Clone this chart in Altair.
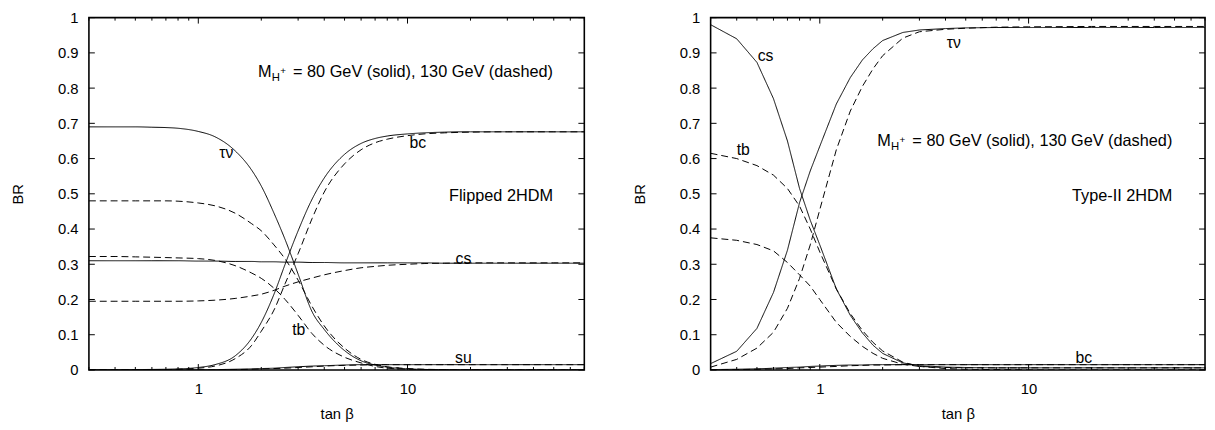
import altair as alt
import pandas as pd

FONT = "Liberation Sans"

# ---------------- Left panel: Flipped 2HDM ----------------
FL_T = [0.3, 0.4, 0.5, 0.6, 0.7, 0.8, 1.0, 1.2, 1.5, 1.8, 2.0, 2.3, 2.6, 3.0, 3.5, 4.0,
        5.0, 6.0, 7.0, 8.0, 10, 12, 15, 20, 30, 50, 70]
FL_TAUNU_80 = [0.690, 0.690, 0.690, 0.689, 0.688, 0.686, 0.677, 0.662, 0.622, 0.567, 0.522,
               0.445, 0.370, 0.272, 0.165, 0.115, 0.055, 0.026, 0.014, 0.008, 0.003, 0.0015,
               0.0008, 0.0004, 0.0002, 0.0001, 0.0]
FL_CS_80 = [0.310, 0.310, 0.310, 0.310, 0.310, 0.310, 0.309, 0.309, 0.308, 0.308, 0.307,
            0.307, 0.306, 0.306, 0.305, 0.305, 0.304, 0.304, 0.304, 0.304, 0.304, 0.304,
            0.303, 0.303, 0.303, 0.303, 0.303]
FL_BC_80 = [0.000, 0.0005, 0.001, 0.0015, 0.002, 0.003, 0.007, 0.015, 0.040, 0.090, 0.135,
            0.215, 0.300, 0.395, 0.485, 0.545, 0.612, 0.643, 0.657, 0.664, 0.670, 0.673,
            0.675, 0.676, 0.676, 0.676, 0.676]
FL_SU_80 = [0.0, 0.0, 0.0, 0.0001, 0.0002, 0.0003, 0.0005, 0.001, 0.002, 0.003, 0.004,
            0.005, 0.007, 0.009, 0.011, 0.012, 0.014, 0.015, 0.015, 0.015, 0.015, 0.015,
            0.015, 0.015, 0.015, 0.015, 0.015]
FL_TAUNU_130 = [0.480, 0.480, 0.480, 0.480, 0.480, 0.479, 0.474, 0.466, 0.445, 0.415, 0.395,
                0.355, 0.315, 0.255, 0.180, 0.125, 0.062, 0.030, 0.016, 0.009, 0.004, 0.002,
                0.001, 0.0005, 0.0, 0.0, 0.0]
FL_TB_130 = [0.322, 0.322, 0.321, 0.320, 0.319, 0.318, 0.316, 0.311, 0.296, 0.275, 0.260,
             0.232, 0.200, 0.155, 0.103, 0.070, 0.036, 0.020, 0.010, 0.005, 0.002, 0.001,
             0.0, 0.0, 0.0, 0.0, 0.0]
FL_CS_130 = [0.195, 0.195, 0.195, 0.195, 0.195, 0.195, 0.196, 0.198, 0.203, 0.210, 0.215,
             0.226, 0.238, 0.250, 0.261, 0.270, 0.282, 0.290, 0.294, 0.297, 0.300, 0.302,
             0.303, 0.304, 0.304, 0.304, 0.304]
FL_BC_130 = [0.0, 0.0, 0.0005, 0.0008, 0.001, 0.002, 0.005, 0.011, 0.032, 0.070, 0.110,
             0.170, 0.245, 0.330, 0.430, 0.505, 0.585, 0.625, 0.645, 0.655, 0.665, 0.670,
             0.673, 0.675, 0.676, 0.676, 0.676]
FL_SU_130 = [0.0, 0.0, 0.0, 0.0, 0.0001, 0.0002, 0.0003, 0.0006, 0.001, 0.002, 0.003,
             0.004, 0.005, 0.007, 0.009, 0.011, 0.013, 0.014, 0.015, 0.015, 0.015, 0.015,
             0.015, 0.015, 0.015, 0.015, 0.015]

FL_LABEL_TEXT = ["τν", "bc", "cs", "tb", "su"]
FL_LABEL_T = [1.36, 11.2, 18.5, 3.02, 18.5]
FL_LABEL_BR = [0.615, 0.643, 0.316, 0.113, 0.035]
FL_MODEL = "Flipped 2HDM"

# ---------------- Right panel: Type-II 2HDM ----------------
T2_T = [0.3, 0.4, 0.5, 0.6, 0.7, 0.8, 0.9, 1.0, 1.2, 1.4, 1.6, 1.8, 2.0, 2.5, 3.0, 4.0,
        5.0, 7.0, 10, 20, 40, 70]
T2_CS_80 = [0.980, 0.940, 0.873, 0.770, 0.650, 0.515, 0.425, 0.355, 0.230, 0.155, 0.105,
            0.070, 0.047, 0.020, 0.012, 0.008, 0.007, 0.006, 0.006, 0.006, 0.006, 0.006]
T2_TAUNU_80 = [0.018, 0.053, 0.118, 0.220, 0.340, 0.475, 0.565, 0.635, 0.755, 0.830, 0.880,
               0.912, 0.935, 0.958, 0.965, 0.969, 0.971, 0.972, 0.972, 0.972, 0.972, 0.972]
T2_BC_80 = [0.001, 0.002, 0.003, 0.005, 0.007, 0.008, 0.010, 0.011, 0.013, 0.014, 0.014,
            0.015, 0.015, 0.015, 0.015, 0.015, 0.015, 0.015, 0.015, 0.015, 0.015, 0.015]
T2_TB_130 = [0.615, 0.600, 0.580, 0.553, 0.515, 0.465, 0.400, 0.335, 0.230, 0.160, 0.112,
             0.078, 0.054, 0.022, 0.010, 0.004, 0.002, 0.001, 0.0, 0.0, 0.0, 0.0]
T2_CS_130 = [0.375, 0.368, 0.356, 0.338, 0.305, 0.270, 0.238, 0.200, 0.135, 0.095, 0.067,
             0.047, 0.033, 0.016, 0.010, 0.007, 0.006, 0.006, 0.006, 0.006, 0.006, 0.006]
T2_TAUNU_130 = [0.008, 0.030, 0.062, 0.107, 0.175, 0.260, 0.355, 0.455, 0.625, 0.735, 0.805,
                0.855, 0.892, 0.942, 0.960, 0.967, 0.970, 0.973, 0.974, 0.975, 0.975, 0.975]
T2_BC_130 = [0.0005, 0.001, 0.002, 0.003, 0.004, 0.006, 0.007, 0.008, 0.010, 0.012, 0.013,
             0.014, 0.014, 0.015, 0.015, 0.015, 0.015, 0.015, 0.015, 0.015, 0.015, 0.015]

T2_LABEL_TEXT = ["cs", "tb", "τν", "bc"]
T2_LABEL_T = [0.55, 0.43, 4.38, 18.4]
T2_LABEL_BR = [0.891, 0.624, 0.928, 0.035]
T2_MODEL = "Type-II 2HDM"

# annotation text
ANNOT_MAIN = "= 80 GeV (solid), 130 GeV (dashed)"
FL_ANNOT_T, FL_ANNOT_BR, FL_MODEL_BR = 49.6, 0.832, 0.48
T2_ANNOT_T, T2_ANNOT_BR, T2_MODEL_BR = 48.8, 0.635, 0.48

# axis ticks
Y_TICKS = [0, 0.1, 0.2, 0.3, 0.4, 0.5, 0.6, 0.7, 0.8, 0.9, 1.0]
X_MAJOR = [1, 10]
X_MINOR = [0.3, 0.4, 0.5, 0.6, 0.7, 0.8, 0.9, 2, 3, 4, 5, 6, 7, 8, 9, 20, 30, 40, 50, 60, 70]
X_DOMAIN = [0.3, 70]


def long_df(t, series):
    rows = []
    for name, (vals, mass) in series.items():
        for x, y in zip(t, vals):
            rows.append({"t": x, "BR": y, "curve": name, "mass": mass})
    return pd.DataFrame(rows)


AX_COMMON = dict(ticks=False, tickSize=0, domain=False, grid=False, labelOverlap=False,
                 labelFont=FONT, labelFontSize=15, labelColor="black",
                 titleFont=FONT, titleFontSize=15, titleFontWeight="normal", titleColor="black")
X_AXIS = alt.Axis(values=X_MAJOR, format="~g", title="tan β", labelPadding=12, titlePadding=10,
                  **AX_COMMON)
Y_AXIS = alt.Axis(values=Y_TICKS, format=".1~f", title="BR", labelPadding=11, titlePadding=32,
                  **AX_COMMON)


def panel(df, interp, lab_text, lab_t, lab_br, a_t, a_br, model, model_br, W, H):
    xs = alt.Scale(type="log", domain=X_DOMAIN, nice=False)
    ys = alt.Scale(domain=[0, 1], nice=False, zero=False)
    Xs = alt.X("t:Q", scale=xs, axis=X_AXIS)
    Ys = alt.Y("BR:Q", scale=ys, axis=Y_AXIS)

    lines = alt.Chart(df).mark_line(color="black", strokeWidth=1, interpolate=interp, clip=True).encode(
        x=Xs, y=Ys,
        detail="curve:N",
        strokeDash=alt.StrokeDash("mass:N", scale=alt.Scale(domain=["80", "130"],
                                                            range=[[1, 0], [7, 4]]), legend=None),
    )

    ydf = pd.DataFrame({"BR": Y_TICKS})
    xmaj = pd.DataFrame({"t": X_MAJOR})
    xmin = pd.DataFrame({"t": X_MINOR})
    rule = dict(color="black", strokeWidth=1)
    yt_l = alt.Chart(ydf).mark_rule(**rule).encode(y=Ys, x=alt.value(0), x2=alt.value(6))
    yt_r = alt.Chart(ydf).mark_rule(**rule).encode(y=Ys, x=alt.value(W - 6), x2=alt.value(W))
    xt_b = alt.Chart(xmaj).mark_rule(**rule).encode(x=Xs, y=alt.value(H), y2=alt.value(H - 6))
    xt_t = alt.Chart(xmaj).mark_rule(**rule).encode(x=Xs, y=alt.value(0), y2=alt.value(6))
    xm_b = alt.Chart(xmin).mark_rule(**rule).encode(x=Xs, y=alt.value(H), y2=alt.value(H - 3))
    xm_t = alt.Chart(xmin).mark_rule(**rule).encode(x=Xs, y=alt.value(0), y2=alt.value(3))

    ldf = pd.DataFrame({"t": lab_t, "BR": lab_br, "txt": lab_text})
    labels = alt.Chart(ldf).mark_text(font=FONT, fontSize=16, color="black").encode(
        x=Xs, y=Ys, text="txt:N")

    adf = pd.DataFrame({"t": [a_t], "BR": [a_br], "txt": [ANNOT_MAIN]})
    a_main = alt.Chart(adf).mark_text(font=FONT, fontSize=16.5, align="right",
                                      baseline="alphabetic", color="black").encode(
        x=Xs, y=Ys, text="txt:N")
    a_m = alt.Chart(adf).mark_text(font=FONT, fontSize=16.5, align="left", baseline="alphabetic",
                                   dx=-299, color="black").encode(x=Xs, y=Ys, text=alt.value("M"))
    a_h = alt.Chart(adf).mark_text(font=FONT, fontSize=11.5, align="left", baseline="alphabetic",
                                   dx=-285, dy=4, color="black").encode(x=Xs, y=Ys, text=alt.value("H"))
    a_p = alt.Chart(adf).mark_text(font=FONT, fontSize=10, align="left", baseline="alphabetic",
                                   dx=-276.5, dy=-3, color="black").encode(x=Xs, y=Ys, text=alt.value("+"))
    mdf = pd.DataFrame({"t": [a_t], "BR": [model_br], "txt": [model]})
    a_model = alt.Chart(mdf).mark_text(font=FONT, fontSize=16.5, align="right",
                                       baseline="alphabetic", color="black").encode(
        x=Xs, y=Ys, text="txt:N")

    return alt.layer(lines, yt_l, yt_r, xt_b, xt_t, xm_b, xm_t, labels,
                     a_main, a_m, a_h, a_p, a_model).properties(width=W, height=H)


H = 357
left_df = long_df(FL_T, {
    "tn80": (FL_TAUNU_80, "80"), "cs80": (FL_CS_80, "80"), "bc80": (FL_BC_80, "80"),
    "su80": (FL_SU_80, "80"), "tn130": (FL_TAUNU_130, "130"), "tb130": (FL_TB_130, "130"),
    "cs130": (FL_CS_130, "130"), "bc130": (FL_BC_130, "130"), "su130": (FL_SU_130, "130"),
})
right_df = long_df(T2_T, {
    "cs80": (T2_CS_80, "80"), "tn80": (T2_TAUNU_80, "80"), "bc80": (T2_BC_80, "80"),
    "tb130": (T2_TB_130, "130"), "cs130": (T2_CS_130, "130"), "tn130": (T2_TAUNU_130, "130"),
    "bc130": (T2_BC_130, "130"),
})

left = panel(left_df, "monotone", FL_LABEL_TEXT, FL_LABEL_T, FL_LABEL_BR,
             FL_ANNOT_T, FL_ANNOT_BR, FL_MODEL, FL_MODEL_BR, 502, H)
right = panel(right_df, "linear", T2_LABEL_TEXT, T2_LABEL_T, T2_LABEL_BR,
              T2_ANNOT_T, T2_ANNOT_BR, T2_MODEL, T2_MODEL_BR, 501, H)

chart = alt.hconcat(left, right, spacing=46).properties(
    padding={"top": -1, "left": 2, "right": 0, "bottom": 0}
).configure_view(stroke="black", strokeWidth=1.6)

chart.save("out.html", embed_options={"renderer": "svg", "actions": False})
